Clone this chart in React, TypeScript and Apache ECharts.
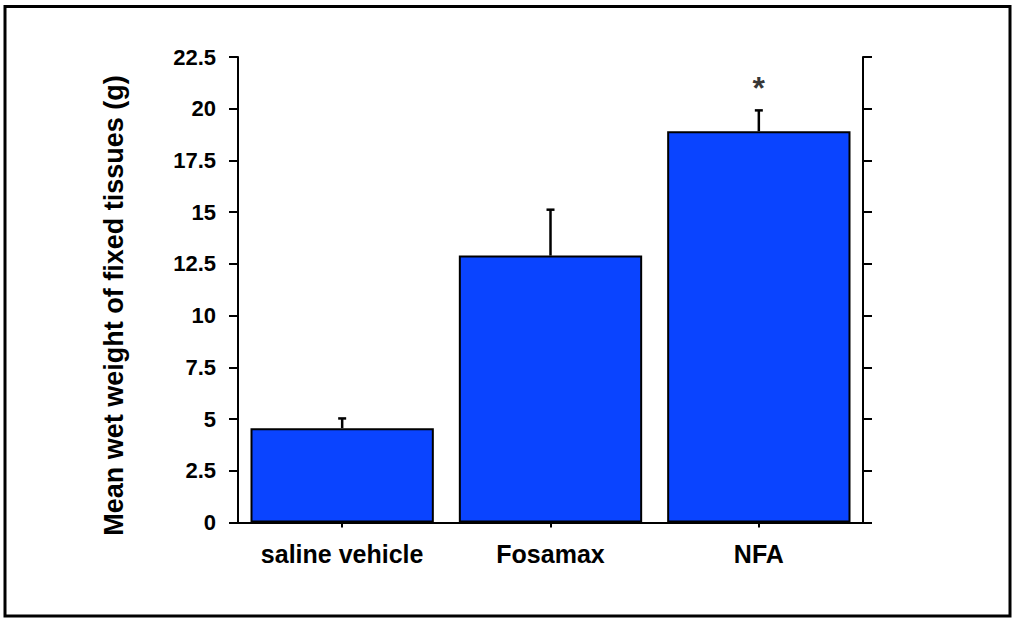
import React, { useEffect, useRef } from "react";
import * as echarts from "echarts";

const categories = ["saline vehicle", "Fosamax", "NFA"];
const means = [4.56, 12.9, 18.91];
const errorTops = [5.03, 15.12, 19.92];
const significance = ["", "", "*"];
const yTicks = { min: 0, max: 22.5, interval: 2.5 };
const yName = "Mean wet weight of fixed tissues (g)";

const FONT = "'Liberation Sans', Arial, sans-serif";

export default function App() {
  const ref = useRef<HTMLDivElement>(null);
  useEffect(() => {
    if (!ref.current) return;
    const chart = echarts.init(ref.current, null, { renderer: "svg" });
    const axisLine = { show: true, lineStyle: { color: "#000", width: 2 } };
    const option: any = {
      animation: false,
      backgroundColor: "#fff",
      grid: { left: 238, top: 57, right: 150, bottom: 95.5, containLabel: false },
      xAxis: [
        {
          type: "category",
          data: categories,
          position: "bottom",
          axisLine,
          axisTick: { show: true, alignWithLabel: true, interval: 0, length: 5, lineStyle: { color: "#000", width: 2 } },
          axisLabel: {
            interval: 0,
            color: "#000",
            fontFamily: FONT,
            fontWeight: "bold",
            fontSize: 25,
            margin: 19,
          },
        },
        {
          type: "category",
          data: categories,
          position: "top",
          axisLine,
          axisTick: { show: true, alignWithLabel: true, interval: 0, length: 5, lineStyle: { color: "#000", width: 2 } },
          axisLabel: { show: false, interval: 0 },
        },
      ],
      yAxis: [
        {
          type: "value",
          position: "left",
          min: yTicks.min,
          max: yTicks.max,
          interval: yTicks.interval,
          axisLine,
          axisTick: { show: true, length: 9, lineStyle: { color: "#000", width: 2 } },
          splitLine: { show: false },
          axisLabel: {
            color: "#000",
            fontFamily: FONT,
            fontWeight: "bold",
            fontSize: 22,
            margin: 22,
            formatter: (v: number) => String(v),
          },
        },
        {
          type: "value",
          position: "right",
          min: yTicks.min,
          max: yTicks.max,
          interval: yTicks.interval,
          axisLine,
          axisTick: { show: true, length: 9, lineStyle: { color: "#000", width: 2 } },
          splitLine: { show: false },
          axisLabel: { show: false },
        },
      ],
      series: [
        {
          type: "bar",
          data: means,
          barWidth: "88%",
          itemStyle: { color: "#0a44ff", borderColor: "#000", borderWidth: 2 },
          z: 2,
        },
        {
          type: "custom",
          data: means.map((m, i) => [i, m, errorTops[i]]),
          z: 3,
          renderItem: (params: any, api: any) => {
            const i = api.value(0);
            const base = api.coord([i, api.value(1)]);
            const top = api.coord([i, api.value(2)]);
            const cap = 4;
            return {
              type: "group",
              children: [
                {
                  type: "line",
                  shape: { x1: base[0], y1: base[1], x2: top[0], y2: top[1] },
                  style: { stroke: "#000", lineWidth: 2.5 },
                },
                {
                  type: "line",
                  shape: { x1: top[0] - cap, y1: top[1], x2: top[0] + cap, y2: top[1] },
                  style: { stroke: "#000", lineWidth: 2.5 },
                },
              ],
            };
          },
        },
        {
          type: "scatter",
          symbolSize: 0,
          data: significance
            .map((s, i) => (s ? { value: [i, 21.0], label: { formatter: s } } : null))
            .filter(Boolean),
          label: {
            show: true,
            position: "inside",
            color: "#000",
            fontFamily: FONT,
            fontWeight: "bold",
            fontSize: 32,
          },
          z: 4,
        },
      ],
      graphic: [
        {
          type: "rect",
          shape: { x: 5, y: 6.5, width: 1005, height: 609.5 },
          style: { fill: "none", stroke: "#000", lineWidth: 3 },
          silent: true,
        },
        {
          type: "text",
          x: 114,
          y: 305.5,
          rotation: Math.PI / 2,
          style: {
            text: yName,
            fill: "#000",
            font: `bold 27px ${FONT}`,
            textAlign: "center",
            textVerticalAlign: "middle",
          },
        },
      ],
    };
    chart.setOption(option);
    return () => chart.dispose();
  }, []);
  return (
    <div
      ref={ref}
      style={{ position: "absolute", left: 0, top: 0, width: 1013, height: 618 }}
    />
  );
}
